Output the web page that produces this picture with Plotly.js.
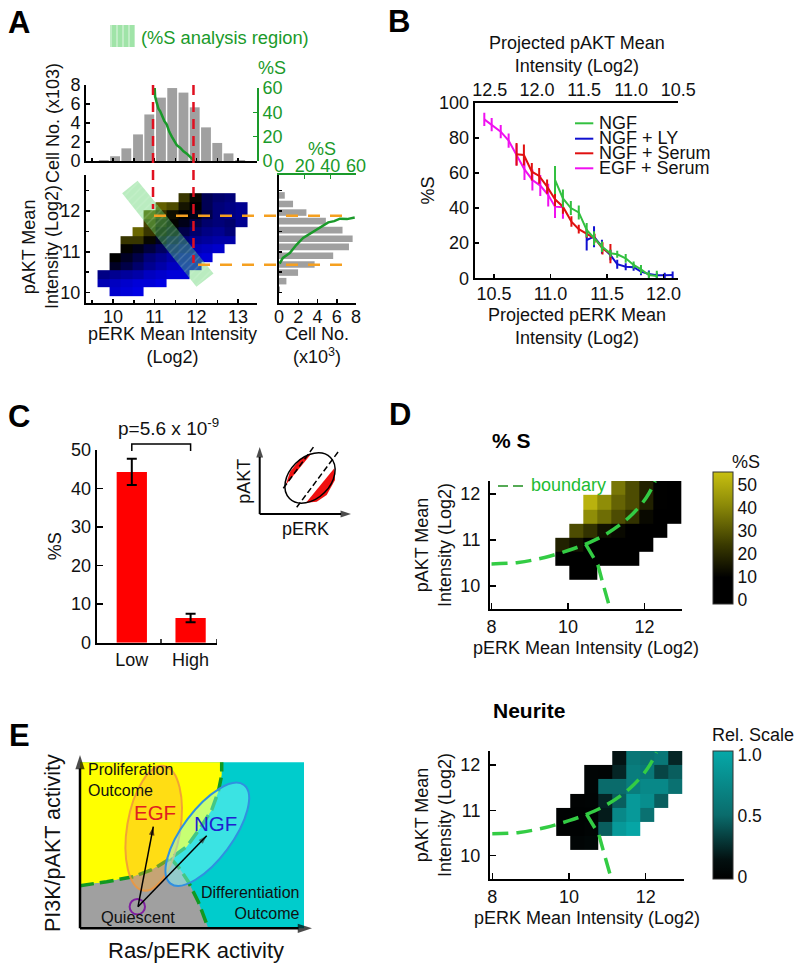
<!DOCTYPE html>
<html>
<head>
<meta charset="utf-8">
<script src="https://cdn.plot.ly/plotly-3.0.1.min.js"></script>
<style>html,body{margin:0;padding:0;background:#fff}</style>
</head>
<body>
<div id="chart" style="width:800px;height:967px"></div>
<script>
// ---------- Panel A ----------
const histBins = [9.78,10.05,10.32,10.6,10.87,11.15,11.42,11.69,11.96,12.23,12.5,12.77,13.05];
const histCounts = [0.1,0.5,1.33,2.8,4.9,6.67,7.68,7.2,5.65,3.54,1.9,0.8,0.1];
const perkSX = [11.0,11.01,11.04,11.09,11.13,11.17,11.23,11.29,11.35,11.41,11.47,11.53,11.61,11.69,11.77,11.85,11.95];
const perkSY = [60,53,49,43,41,38,33,30,24,20,17,13,11,8,6,3,0];
const aktBins = [12.38,12.17,11.96,11.75,11.53,11.32,11.12,10.9,10.69,10.49,10.28,10.07];
const aktCounts = [0.6,1.46,2.85,4.87,6.6,7.65,7.27,5.63,3.7,1.98,0.77,0.1];
const aktSX = [0.5,3,8.4,13.6,18.8,24,29,34,38.4,43,47.5,53,59];
const aktSY = [10.71,10.85,10.97,11.17,11.34,11.44,11.54,11.63,11.72,11.75,11.81,11.80,11.84];
const mapX = [9.77,10.05,10.32,10.6,10.87,11.15,11.43,11.7,11.98,12.25,12.53,12.81,13.08];
const mapY = [12.33,12.12,11.91,11.70,11.49,11.28,11.07,10.86,10.65,10.44,10.23,10.02];
const _ = null;
const mapZ = [ // + = olive (%S channel), - = blue (cell density channel)
 [_,_,_,_,_,_,_,.4,.05,-.35,-.45,-.5,_],
 [_,_,_,_,_,.7,.55,.15,0,-.35,-.5,-.55,-.6],
 [_,_,_,_,.7,.4,.1,0,-.1,-.3,-.5,-.55,-.6],
 [_,_,_,_,.5,.2,.02,-.1,-.3,-.45,-.5,-.45,-.6],
 [_,_,_,.75,.4,.05,-.1,-.3,-.45,-.55,-.6,-.5,_],
 [_,_,.4,.4,.05,-.15,-.35,-.5,-.6,-.65,-.7,-.7,_],
 [_,_,.02,-.1,-.25,-.4,-.55,-.65,-.75,-.8,-.85,_,_],
 [_,0,-.15,-.3,-.5,-.6,-.7,-.8,-.85,-.9,_,_,_],
 [_,-.15,-.3,-.45,-.6,-.7,-.8,-.85,-.9,_,_,_,_],
 [-.55,-.6,-.65,-.7,-.8,-.85,-.9,-.9,_,_,_,_,_],
 [-.75,-.8,-.85,-.9,-.9,-.95,_,_,_,_,_,_,_],
 [_,-.85,-.9,-.95,_,_,_,_,_,_,_,_,_]
];
const bandX = [10.22,10.59,12.41,12.0,10.22];
const bandY = [12.43,12.74,10.47,10.14,12.43];
const perkCuts = [10.96,11.93];
const aktCuts = [11.88,10.68];

// ---------- Panel B ----------
const egfSerumX = [10.415,10.48,10.56,10.63,10.70,10.77,10.84,10.91,10.98,11.04,11.11];
const egfSerumY = [90.5,87.5,83.5,78.4,70.4,62,56,52.8,47.4,40.8,40.4];
const egfSerumE = [3.8,3.8,3.8,4,6,6,6,6,6.5,6.5,6.5];
const ngfSerumX = [10.70,10.765,10.835,10.9,10.97,11.04,11.11,11.185,11.25,11.32,11.39,11.46,11.53];
const ngfSerumY = [70.6,70.2,60.7,58.3,52.2,45,40.8,32.3,28,25.6,22.8,17,14];
const ngfSerumE = [6.5,6,5,4.5,4,4,4,3,2.5,2.5,2.5,3.5,5.5];
const ngfX = [11.04,11.11,11.18,11.25,11.32,11.385,11.455,11.53,11.59,11.665,11.735,11.80,11.87,11.94];
const ngfY = [56,45.5,40,37.5,27.5,22.8,18,14.2,13.7,11.4,7.6,5.1,1.9,1.3];
const ngfE = [8,5,4,4,4,4,3,2,2,2.5,2,2.5,2,3];
const ngfLyX = [11.32,11.385,11.455,11.53,11.59,11.665,11.735,11.80,11.87,11.94,12.01,12.08];
const ngfLyY = [21.8,23.7,18,13.3,8,6.6,6.3,3.8,2.5,1.7,1.7,1.9];
const ngfLyE = [6,6,4,3,2.5,2,2,2,2,1.5,1.5,2];
const legendNames = ["NGF","NGF + LY","NGF + Serum","EGF + Serum"];
const legendColors = ["#33c040","#1010d0","#e01010","#f010f0"];
const topTicks = [12.5,12.0,11.5,11.0,10.5];

// ---------- Panel C ----------
const barLabels = ["Low","High"];
const barValues = [44.3,6.4];
const barErrors = [3.4,1.1];

// ---------- Panel D ----------
const gridX = [9.85,10.215,10.58,10.945,11.31,11.675,12.04,12.405,12.77];
const gridYS = [12.13,11.82,11.51,11.21,10.90,10.59,10.28];
const gridYN = [12.155,11.84,11.53,11.21,10.90,10.58,10.27];
const pctS = [
 [_,_,_,_,37,28,18,10,5],
 [_,_,52,42,33,28,18,10,6],
 [_,_,42,35,28,22,12,6,4],
 [_,28,22,14,12,7,3,2,_],
 [18,14,5,3,2,2,1,_,_],
 [2,2,2,1,1,1,_,_,_],
 [_,1,1,_,_,_,_,_,_]
];
const neurite = [
 [_,_,_,_,.15,.6,.55,.6,.22],
 [_,_,.03,.02,.22,.65,.6,.35,.45],
 [_,_,.03,.5,.5,.65,.75,.75,.55],
 [_,.01,.02,.22,.45,.9,.8,.45,_],
 [0,0,0,.18,.75,.9,.55,_,_],
 [0,0,.02,.45,.9,1,_,_,_],
 [_,.03,.05,_,_,_,_,_,_]
];
const boundAX = [8,8.7,9.39,10,10.46,10.96,11.57,12.04,12.28];
const boundAY = [10.48,10.51,10.62,10.77,10.91,11.11,11.47,11.91,12.28];
const boundBX = [10.46,10.78,10.91,11.1];
const boundBY = [10.91,10.46,10.06,9.5];

// ---------- Schematic outlines (page units) ----------
const swatchX = [110,135,135,110,110], swatchY = [25,25,47,47,25];
const legendKeyX = [575,593.3], legendKeyY = [123.3,138.7,153.3,168.3];
const crescentTX = [285.7,311.7,300,290,285.7], crescentTY = [485,453.3,459.3,471.7,485];
const crescentBX = [306,334.3,335,326.7,316.7,306], crescentBY = [502.7,468.3,480,495,501.7,502.7];
const upperEdgeX = [80,106.7,133.3,153.3,170.7,186.7,200,211.7,218.3,221.7,221.7];
const upperEdgeY = [885.7,881.7,876.7,869,858.3,846.7,828.3,810,791.7,775,762.3];
const lowerEdgeX = [170.7,180,188.3,198.3,208.3];
const lowerEdgeY = [858.3,869,881.7,901.7,928.3];

// ---------- Helpers ----------
const FONT = "Liberation Sans, Arial, sans-serif";
const xd = (a,b)=>[a/800,b/800];
const yd = (top,bot)=>[1-bot/967,1-top/967];
const px = v=>v/800, py = v=>1-v/967;
function ax(o){
  return Object.assign({showline:true,linecolor:'#000',linewidth:2,ticks:'inside',ticklen:4,tickwidth:1.5,tickcolor:'#000',
    showgrid:false,zeroline:false,fixedrange:true,tickfont:{size:18}},o);
}
function ttl(text,standoff,size){return {text,standoff,font:{size:size||18}};}
function note(text,x,y,o){
  o=o||{};
  return {text,x:x/800,y:1-y/967,xref:'paper',yref:'paper',showarrow:false,xanchor:o.xa||'center',yanchor:'middle',
    textangle:o.rot||0,align:o.align||'center',font:{size:o.size||18,color:o.color||'#111',family:FONT,weight:o.bold?700:400}};
}
function ellipsePath(c,u,v){
  const k=0.5523;
  const P=(a,b)=>(c[0]+a*u[0]+b*v[0]).toFixed(1)+' '+(c[1]+a*u[1]+b*v[1]).toFixed(1);
  return 'M '+P(1,0)+' C '+P(1,k)+' '+P(k,1)+' '+P(0,1)+' C '+P(-k,1)+' '+P(-1,k)+' '+P(-1,0)+
         ' C '+P(-1,-k)+' '+P(-k,-1)+' '+P(0,-1)+' C '+P(k,-1)+' '+P(1,-k)+' '+P(1,0)+' Z';
}
const GREEN='#1a9a2a', RED='#e01020', ORANGE='#f5a020', BOUND='#33cc44';
const page={xaxis:'x11',yaxis:'y11',type:'scatter',mode:'lines',hoverinfo:'skip'};
const arrowTrace=(xs,ys,w,s)=>Object.assign({},page,{mode:'lines+markers',x:xs,y:ys,line:{color:'#000',width:w},
  marker:{symbol:'arrow',size:[0,s],color:'#000',angleref:'previous',line:{width:0}}});

const traces=[];
// A histogram + %S
traces.push({type:'bar',x:histBins,y:histCounts,width:0.236,marker:{color:'#a0a0a0'},xaxis:'x',yaxis:'y'});
traces.push({type:'scatter',mode:'lines',x:perkSX,y:perkSY,xaxis:'x',yaxis:'y2',line:{color:GREEN,width:2.5}});
// A map
traces.push({type:'heatmap',x:mapX,y:mapY,z:mapZ,xaxis:'x3',yaxis:'y3',zmin:-1,zmax:1,showscale:false,
  colorscale:[[0,'#0000f0'],[0.5,'#000000'],[1,'#8c8800']]});
traces.push({type:'scatter',mode:'lines',x:bandX,y:bandY,xaxis:'x3',yaxis:'y3',fill:'toself',line:{width:0},
  fillcolor:'rgba(90,210,105,0.42)',fillpattern:{shape:'/',bgcolor:'rgba(90,210,105,0.42)',fgcolor:'rgba(235,255,235,0.18)',size:6,solidity:0.2}});
// A side histogram
traces.push({type:'bar',orientation:'h',x:aktCounts,y:aktBins,width:0.16,marker:{color:'#a0a0a0'},xaxis:'x4',yaxis:'y4'});
traces.push({type:'scatter',mode:'lines',x:aktSX,y:aktSY,xaxis:'x5',yaxis:'y4',line:{color:GREEN,width:2.5}});
// B
const errLine=(x,y,e,c)=>({type:'scatter',mode:'lines',x,y,xaxis:'x6',yaxis:'y6',line:{color:c,width:2},cliponaxis:false,
  error_y:{type:'data',array:e,color:c,thickness:2,width:0}});
traces.push(errLine(egfSerumX,egfSerumY,egfSerumE,legendColors[3]));
traces.push(errLine(ngfLyX,ngfLyY,ngfLyE,legendColors[1]));
traces.push(errLine(ngfSerumX,ngfSerumY,ngfSerumE,legendColors[2]));
traces.push(errLine(ngfX,ngfY,ngfE,legendColors[0]));
traces.push({type:'scatter',mode:'markers',x:topTicks,y:topTicks.map(()=>0),xaxis:'x7',yaxis:'y6',marker:{opacity:0},hoverinfo:'skip'});
// C
traces.push({type:'bar',x:[0,1],y:barValues,width:0.515,marker:{color:'#ff0000'},xaxis:'x8',yaxis:'y8',
  error_y:{type:'data',array:barErrors,color:'#000',thickness:2,width:5}});
// D
const hm=(y,z,xa,ya,zmin,zmax,scale,cb)=>({type:'heatmap',x:gridX,y,z,xaxis:xa,yaxis:ya,zmin,zmax,colorscale:scale,colorbar:cb});
const cbBase={thickness:20,lenmode:'pixels',xanchor:'left',yanchor:'bottom',xpad:0,ypad:0,outlinewidth:1,outlinecolor:'#333',ticks:'',tickfont:{size:17.5},x:713/800};
traces.push(hm(gridYS,pctS,'x9','y9',-1.7,55.6,[[0,'#000000'],[0.2,'#000000'],[0.45,'#3a3a00'],[0.75,'#8c8a08'],[1,'#c8c010']],
  Object.assign({},cbBase,{len:132,y:1-604/967,tickvals:[0,10,20,30,40,50]})));
traces.push(hm(gridYN,neurite,'x10','y10',-0.02,1.03,[[0,'#000000'],[0.15,'#031010'],[0.5,'#0a6c6c'],[1,'#06a8a8']],
  Object.assign({},cbBase,{len:128,y:1-879/967,tickvals:[0,0.5,1],ticktext:['0','0.5','1.0']})));
[['x9','y9'],['x10','y10']].forEach(p=>{
  traces.push({type:'scatter',mode:'lines',x:boundAX,y:boundAY,xaxis:p[0],yaxis:p[1],line:{color:BOUND,width:3.5,dash:'16px,8px',shape:'spline'}});
  traces.push({type:'scatter',mode:'lines',x:boundBX,y:boundBY,xaxis:p[0],yaxis:p[1],line:{color:BOUND,width:3.5,dash:'16px,8px'}});
});
// page-level schematic items
traces.push(Object.assign({},page,{x:swatchX,y:swatchY,fill:'toself',line:{width:0},fillcolor:'#a8e6ae',
  fillpattern:{shape:'|',bgcolor:'#a0e4a8',fgcolor:'#d8f4da',size:6,solidity:0.2}}));
legendColors.forEach((c,i)=>traces.push(Object.assign({},page,{x:legendKeyX,y:[legendKeyY[i],legendKeyY[i]],line:{color:c,width:2}})));
traces.push(Object.assign({},page,{x:[498,523],y:[486,486],line:{color:'#55aa55',width:2,dash:'10px,5px'}}));
// C inset
traces.push(Object.assign({},page,{x:crescentTX,y:crescentTY,fill:'toself',fillcolor:'#f01010',line:{width:0}}));
traces.push(Object.assign({},page,{x:crescentBX,y:crescentBY,fill:'toself',fillcolor:'#f01010',line:{width:0}}));
traces.push(Object.assign({},page,{x:[283.3,315],y:[488.3,445],line:{color:'#000',width:1.5,dash:'6px,3px'}}));
traces.push(Object.assign({},page,{x:[296.7,338.3],y:[507.3,451.7],line:{color:'#000',width:1.5,dash:'6px,3px'}}));
traces.push(arrowTrace([259.7,351],[514,514],2,11));
traces.push(arrowTrace([259.7,259.7],[514,447],2,11));
// E regions
traces.push(Object.assign({},page,{x:[80,304,304,80,80],y:[762.3,762.3,928.3,928.3,762.3],fill:'toself',fillcolor:'#00cccc',line:{width:0}}));
traces.push(Object.assign({},page,{x:[80].concat(upperEdgeX),y:[762.3].concat(upperEdgeY),fill:'toself',fillcolor:'#ffff00',line:{width:0}}));
traces.push(Object.assign({},page,{x:[80,106.7,133.3,153.3].concat(lowerEdgeX,[80]),y:[885.7,881.7,876.7,869].concat(lowerEdgeY,[928.3]),fill:'toself',fillcolor:'#a0a0a0',line:{width:0}}));
traces.push(Object.assign({},page,{x:upperEdgeX,y:upperEdgeY,line:{color:'#119922',width:3.5,dash:'14px,6px'}}));
traces.push(Object.assign({},page,{x:lowerEdgeX,y:lowerEdgeY,line:{color:'#119922',width:3.5,dash:'14px,6px'}}));
traces.push(arrowTrace([80,312],[928.3,928.3],2.5,15));
traces.push(arrowTrace([80,80],[928.3,755],2.5,15));

const annotations=[
  note('A',19,22,{size:31,bold:true,color:'#000'}), note('B',399,21,{size:31,bold:true,color:'#000'}),
  note('C',19,416,{size:31,bold:true,color:'#000'}), note('D',400,414,{size:31,bold:true,color:'#000'}),
  note('E',19,735,{size:31,bold:true,color:'#000'}),
  note('(%S analysis region)',139,37,{xa:'left',color:GREEN,size:18.3}),
  note('%S',272,68,{color:GREEN}), note('%S',322,149,{color:GREEN}),
  note('NGF',596.7,123,{xa:'left'}), note('NGF + LY',596.7,138,{xa:'left'}),
  note('NGF + Serum',596.7,153,{xa:'left'}), note('EGF + Serum',596.7,168,{xa:'left'}),
  note('p=5.6 x 10<sup>-9</sup>',168,427,{size:19}),
  note('pAKT',244,481.7,{rot:-90}), note('pERK',305,529.3),
  note('% S',511.7,440.7,{size:21,bold:true,color:'#000'}), note('Neurite',529,710.7,{size:21,bold:true,color:'#000'}),
  note('boundary',529,485,{xa:'left',color:'#22bb33'}),
  note('%S',746,461.7), note('Rel. Scale',753,735),
  // axis titles placed to match the figure's tight spacing
  note('pAKT Mean<br>Intensity (Log2)',40,247,{rot:-90}),
  note('pERK Mean Intensity<br>(Log2)',172,345),
  note('Cell No.<br>(x10<sup>3</sup>)',317,345),
  note('Projected pAKT Mean<br>Intensity (Log2)',577,55),
  note('Projected pERK Mean<br>Intensity (Log2)',577,326.5),
  note('Proliferation<br>Outcome',86,780,{xa:'left',align:'left',size:16}),
  note('EGF',155,812.7,{size:20.5,color:'#e02020'}), note('NGF',215,823.7,{size:20.5,color:'#2020d0'}),
  note('Quiescent',138,916.7,{size:16.4}),
  note('Differentiation<br>Outcome',301.5,903,{xa:'right',align:'right',size:16}),
  note('PI3K/pAKT activity',53,843,{rot:-90,size:21.5}), note('Ras/pERK activity',196,950,{size:22})
];
const cutStyle={color:RED,width:2.5,dash:'10px,7px'}, akStyle={color:ORANGE,width:2.5,dash:'12px,10px'};
const shapes=[
  {type:'line',xref:'x3',yref:'paper',x0:perkCuts[0],x1:perkCuts[0],y0:py(85),y1:py(209),layer:'above',line:cutStyle},
  {type:'line',xref:'x3',yref:'paper',x0:perkCuts[1],x1:perkCuts[1],y0:py(85),y1:py(263),layer:'above',line:cutStyle},
  {type:'line',xref:'paper',yref:'y3',x0:px(154),x1:px(345),y0:aktCuts[0],y1:aktCuts[0],layer:'above',line:akStyle},
  {type:'line',xref:'paper',yref:'y3',x0:px(198),x1:px(345),y0:aktCuts[1],y1:aktCuts[1],layer:'above',line:akStyle},
  {type:'path',xref:'x8',yref:'paper',layer:'above',path:'M 0 '+py(451)+' L 0 '+py(444)+' L 1 '+py(444)+' L 1 '+py(451),line:{color:'#000',width:1.5}},
  {type:'path',xref:'x11',yref:'y11',layer:'above',path:ellipsePath([310,478],[20.5,-20.5],[14.5,14.5]),line:{color:'#000',width:1.5}},
  {type:'path',xref:'x11',yref:'y11',layer:'above',path:ellipsePath([153.7,828.3],[10.3,-62.3],[26.3,4.3]),fillcolor:'rgba(255,170,50,0.4)',line:{color:'rgba(240,150,60,0.85)',width:2}},
  {type:'path',xref:'x11',yref:'y11',layer:'above',path:ellipsePath([207.3,834.3],[36.7,-49.3],[20,15]),fillcolor:'rgba(130,255,255,0.45)',line:{color:'#3090e0',width:2}},
  {type:'path',xref:'x11',yref:'y11',layer:'above',path:ellipsePath([137.3,906.7],[7.7,0],[0,7.7]),line:{color:'#8020a0',width:2}},
  // E internal arrows sit above the ellipses
  {type:'line',xref:'x11',yref:'y11',layer:'above',x0:138,y0:906.7,x1:153.3,y1:826.7,line:{color:'#000',width:1.5}},
  {type:'line',xref:'x11',yref:'y11',layer:'above',x0:138,y0:906.7,x1:206.7,y1:835.7,line:{color:'#000',width:1.5}}
];
// E internal arrowheads
traces.push(Object.assign({},page,{mode:'markers',x:[153.3,206.7],y:[826.7,835.7],marker:{symbol:'arrow',size:9,color:'#000',angle:[11,44],line:{width:0}}}));

const layout={
  width:800,height:967,margin:{l:0,r:0,t:0,b:0,autoexpand:false},paper_bgcolor:'#fff',plot_bgcolor:'rgba(0,0,0,0)',
  showlegend:false,barmode:'overlay',font:{family:FONT,size:18,color:'#111'},annotations,shapes,
  // A hist
  xaxis:ax({domain:xd(86,257),range:[9.353,13.453],anchor:'y',dtick:0.5,tick0:10,showticklabels:false,ticklen:3}),
  yaxis:ax({domain:yd(85,161),range:[0,8],anchor:'x',dtick:2,title:ttl('Cell No. (x103)',6)}),
  yaxis2:ax({domain:yd(88,161),range:[0,60],anchor:'x',side:'right',dtick:20,linecolor:GREEN,tickcolor:GREEN,tickfont:{size:18,color:GREEN}}),
  // A map
  xaxis3:ax({domain:xd(86,257),range:[9.353,13.453],anchor:'y3',dtick:1,ticklabelstandoff:-4,minor:{dtick:0.5,ticks:'inside',ticklen:3}}),
  yaxis3:ax({domain:yd(175,303),range:[9.745,12.88],anchor:'x3',dtick:1,minor:{dtick:0.5,ticks:'inside',ticklen:3}}),
  // A side
  xaxis4:ax({domain:xd(279,356),range:[0,8],anchor:'y4',dtick:2,ticklabelstandoff:-4}),
  yaxis4:ax({domain:yd(175,303),range:[9.745,12.88],anchor:'x4',dtick:0.5,showticklabels:false,ticklen:3}),
  xaxis5:ax({domain:xd(279,356),range:[0,60],anchor:'y4',overlaying:'x4',side:'top',dtick:20,linecolor:GREEN,tickcolor:GREEN,ticklabelstandoff:-6,tickfont:{size:18,color:GREEN}}),
  // B
  xaxis6:ax({domain:xd(474.7,678.3),range:[10.33,12.13],anchor:'y6',ticklabelstandoff:-2,tickvals:[10.5,11,11.5,12],ticktext:['10.5','11.0','11.5','12.0']}),
  yaxis6:ax({domain:yd(102.7,278.3),range:[0,100],anchor:'x6',dtick:20,title:ttl('%S',0)}),
  xaxis7:ax({domain:xd(474.7,678.3),range:[12.66,10.5],anchor:'y6',overlaying:'x6',side:'top',ticks:'',ticklabelstandoff:-2,tickvals:topTicks,ticktext:['12.5','12.0','11.5','11.0','10.5']}),
  // C
  xaxis8:ax({domain:xd(96.7,216.7),range:[-0.597,1.444],anchor:'y8',ticks:'',tickvals:[0,1],ticktext:barLabels,minor:{tickmode:'array',tickvals:[0.5,1.44],ticks:'inside',ticklen:4,tickwidth:1.5}}),
  yaxis8:ax({domain:yd(450,642.7),range:[0,50],anchor:'x8',dtick:10,ticklen:6,title:ttl('%S',5)}),
  // D
  xaxis9:ax({domain:xd(490,682),range:[7.96,12.98],anchor:'y9',tickvals:[8,10,12],ticklen:6,title:ttl('pERK Mean Intensity (Log2)',6)}),
  yaxis9:ax({domain:yd(481,609),range:[9.5,12.28],anchor:'x9',tickvals:[10,11,12],ticklen:6,ticklabelstandoff:4,title:ttl('pAKT Mean<br>Intensity (Log2)',4)}),
  xaxis10:ax({domain:xd(490,684),range:[7.94,13],anchor:'y10',tickvals:[8,10,12],ticklen:6,title:ttl('pERK Mean Intensity (Log2)',6)}),
  yaxis10:ax({domain:yd(751,879),range:[9.48,12.31],anchor:'x10',tickvals:[10,11,12],ticklen:6,ticklabelstandoff:4,title:ttl('pAKT Mean<br>Intensity (Log2)',4)}),
  // page-level schematic axes
  xaxis11:{domain:[0,1],range:[0,800],visible:false,fixedrange:true,anchor:'y11'},
  yaxis11:{domain:[0,1],range:[967,0],visible:false,fixedrange:true,anchor:'x11'}
};
Plotly.newPlot('chart',traces,layout,{displayModeBar:false,staticPlot:true});
</script>
</body>
</html>
